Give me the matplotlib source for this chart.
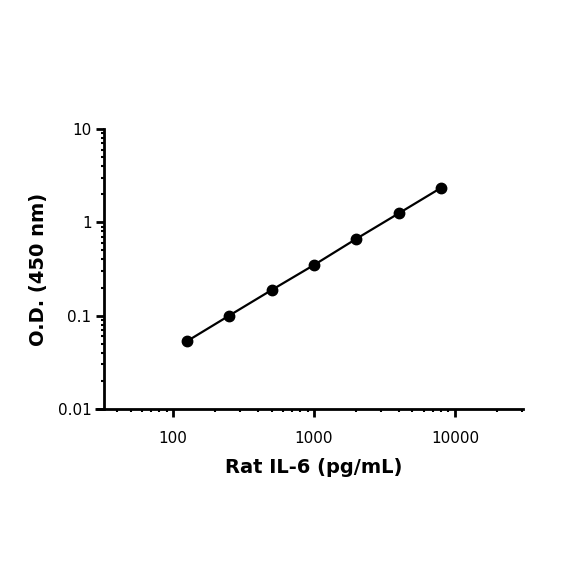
import matplotlib.pyplot as plt
from matplotlib.ticker import FixedLocator, LogLocator, NullFormatter

# Standard curve values
conc = [125, 250, 500, 1000, 2000, 4000, 8000]
od = [0.053, 0.100, 0.188, 0.349, 0.667, 1.25, 2.35]

x_ticks = [100, 1000, 10000]
x_labels = ["100", "1000", "10000"]
y_ticks = [0.01, 0.1, 1, 10]
y_labels = ["0.01", "0.1", "1", "10"]

fig = plt.figure(figsize=(5.84, 5.84), dpi=100)
ax = fig.add_axes([104 / 584, 175 / 584, 419 / 584, 280 / 584])

ax.plot(conc, od, color="black", linewidth=1.6, marker="o", markersize=7.5,
        markerfacecolor="black", markeredgecolor="black", zorder=3)

ax.set_xscale("log")
ax.set_yscale("log")
ax.set_xlim(32.4, 30400)
ax.set_ylim(0.01, 10)

ax.xaxis.set_major_locator(FixedLocator(x_ticks))
ax.set_xticklabels(x_labels)
ax.yaxis.set_major_locator(FixedLocator(y_ticks))
ax.set_yticklabels(y_labels)
ax.xaxis.set_minor_locator(LogLocator(base=10, subs=range(2, 10), numticks=20))
ax.yaxis.set_minor_locator(LogLocator(base=10, subs=range(2, 10), numticks=20))
ax.xaxis.set_minor_formatter(NullFormatter())
ax.yaxis.set_minor_formatter(NullFormatter())

ax.spines["top"].set_visible(False)
ax.spines["right"].set_visible(False)
ax.spines["left"].set_linewidth(2)
ax.spines["bottom"].set_linewidth(2)
# x axis line runs a little past the y axis, like the original
ax.plot([-0.022, 0], [0, 0], transform=ax.transAxes, color="black",
        linewidth=2, clip_on=False, solid_capstyle="butt")

ax.tick_params(which="major", direction="out", length=5.5, width=2, labelsize=11, colors="black")
ax.tick_params(axis="x", which="major", pad=10)
ax.tick_params(which="minor", direction="out", length=2.5, width=1.5)

ax.set_xlabel("Rat IL-6 (pg/mL)", fontsize=14, fontweight="bold", labelpad=9)
ax.set_ylabel("O.D. (450 nm)", fontsize=14, fontweight="bold", labelpad=7)

plt.savefig("out.png", dpi=100)
plt.close()
